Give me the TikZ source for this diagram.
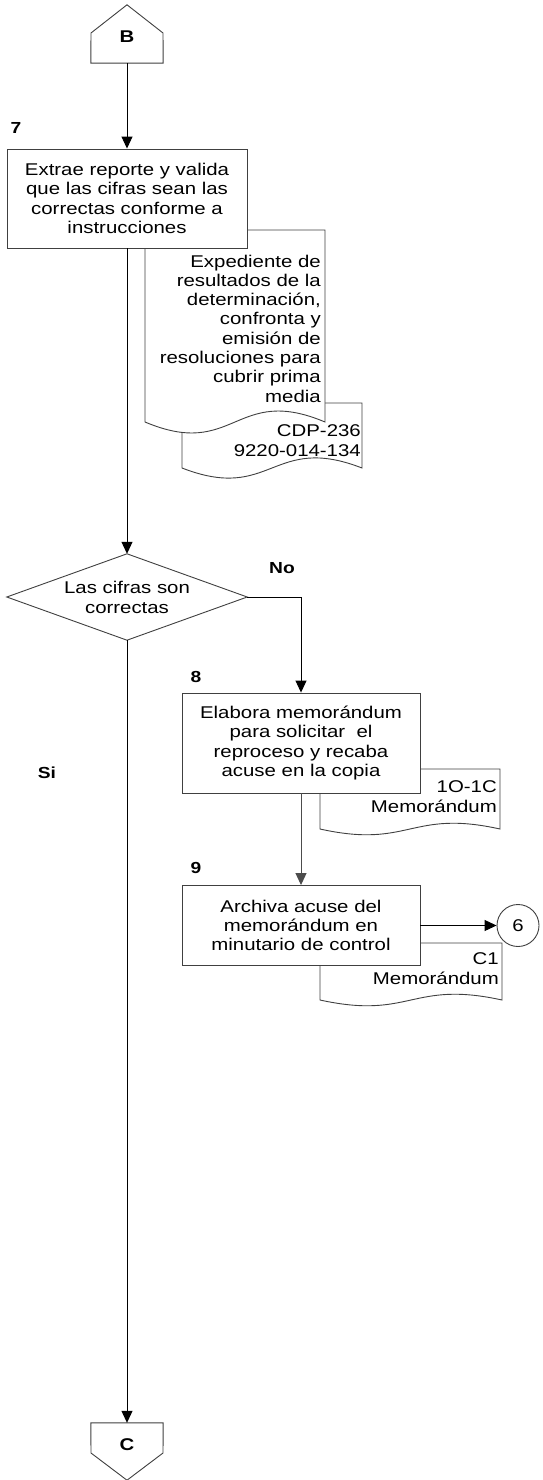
\documentclass[tikz,border=0pt]{standalone}
\usepackage{fontspec}
\setmainfont[FakeStretch=1.2]{Liberation Sans}
\usetikzlibrary{shapes.geometric,arrows.meta}
\begin{document}
\begin{tikzpicture}[x=1pt,y=-1pt,
  every node/.style={font=\fontsize{17}{19.3}\selectfont},
  proc/.style={draw=black!75,fill=white,line width=0.9pt,align=center,inner sep=0pt},
  shp/.style={draw=black!75,fill=white,line width=0.9pt},
  doctext/.style={align=right,inner sep=0pt,anchor=east},
  num/.style={font=\fontsize{16}{19}\selectfont\bfseries,inner sep=0pt},
  arr/.style={line width=1pt,-{Triangle[length=12pt,width=11pt]}}
]
\useasboundingbox (0,0) rectangle (543,1480);

% documents (behind the boxes)
\draw[shp] (182,403) -- (362,403) -- (362,468) .. controls (272,433) and (272,503) .. (182,468) -- cycle;
\draw[shp] (145,230) -- (325,230) -- (325,422) .. controls (235,384) and (235,460) .. (145,422) -- cycle;
\draw[shp] (320,769) -- (500,769) -- (500,829) .. controls (410,809) and (410,849) .. (320,829) -- cycle;
\draw[shp] (320,943) -- (502,943) -- (502,1000) .. controls (411,980) and (411,1020) .. (320,1000) -- cycle;

\node[doctext] (t1) at (321,328.5) {Expediente de\\resultados de la\\determinación,\\confronta y\\emisión de\\resoluciones para\\cubrir prima\\media};
\node[doctext] (t2) at (361,440.5) {CDP-236\\9220-014-134};
\node[doctext] (t8) at (497,796.5) {1O-1C\\Memorándum};
\node[doctext] (t9) at (499,968.5) {C1\\Memorándum};

% off-page connector B
\node[minimum width=72pt,minimum height=58pt,inner sep=0pt] (B) at (127,34) {};
\draw[shp] (B.south west) -- (91,33) -- (B.north) -- (163,33) -- (B.south east) -- cycle;
\node[num,font=\fontsize{17}{19}\selectfont\bfseries] (Bt) at (127,37) {B};

% process boxes
\node[proc,minimum width=240pt,minimum height=99pt] (b7) at (127,198.5) {Extrae reporte y valida\\que las cifras sean las\\correctas conforme a\\instrucciones};

% decision
\node[minimum width=240pt,minimum height=86pt,inner sep=0pt] (d1) at (127,597) {};
\draw[shp] (d1.north) -- (d1.east) -- (d1.south) -- (d1.west) -- cycle;
\node[align=center,inner sep=0pt] (d1t) at (127,597.5) {Las cifras son\\correctas};

\node[proc,minimum width=238pt,minimum height=100pt] (b8) at (301,743) {Elabora memorándum\\para solicitar\ \ el\\reproceso y recaba\\acuse en la copia};
\node[proc,minimum width=238pt,minimum height=80pt] (b9) at (301,925.5) {Archiva acuse del\\memorándum en\\minutario de control};
\node[circle,draw=black!75,fill=white,line width=0.9pt,minimum size=42pt,inner sep=0pt] (c6) at (518,925.5) {6};

% off-page connector C
\node[minimum width=72pt,minimum height=57pt,inner sep=0pt] (C) at (127,1451.5) {};
\draw[shp] (C.north west) -- (C.north east) -- (163,1453) -- (C.south) -- (91,1453) -- cycle;
\node[num,font=\fontsize{17}{19}\selectfont\bfseries] (Ct) at (127,1445) {C};

% labels
\node[num] (l7) at (16,128) {7};
\node[num] (lno) at (282,568) {No};
\node[num] (l8) at (196,677) {8};
\node[num] (lsi) at (47,773) {Si};
\node[num] (l9) at (196,868) {9};

% connectors
\draw[arr] (B.south) -- (b7.north);
\draw[arr] (b7.south) -- (d1.north);
\draw[arr] (d1.east) -| (b8.north);
\draw[arr] (d1.south) -- (C.north);
\draw[arr,black!70] (b8.south) -- (b9.north);
\draw[arr] (b9.east) -- (c6.west);
\end{tikzpicture}
\end{document}
